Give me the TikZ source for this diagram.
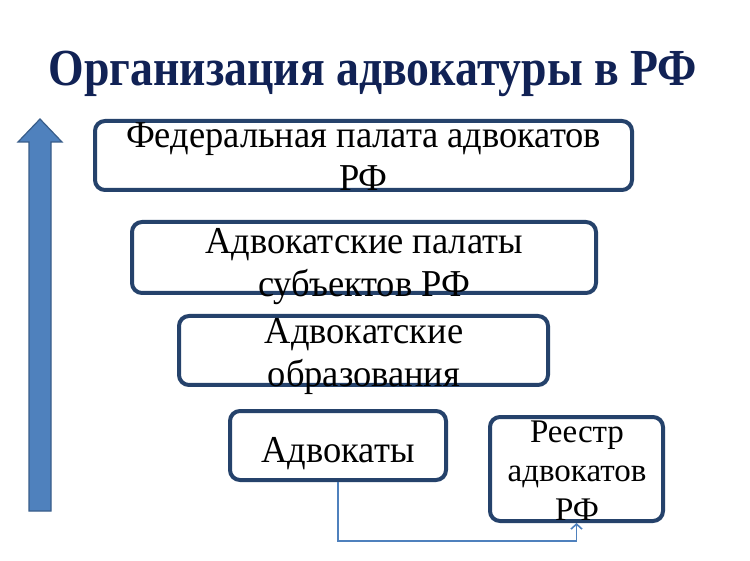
\documentclass[tikz,border=0pt]{standalone}
\usepackage{fontspec}
\setmainfont{Liberation Serif}
\usetikzlibrary{arrows.meta}
\definecolor{boxblue}{RGB}{37,66,107}
\definecolor{arrowfill}{RGB}{79,129,189}
\definecolor{arrowline}{RGB}{56,93,138}
\definecolor{titleblue}{RGB}{17,34,85}
\begin{document}
\begin{tikzpicture}[x=1pt,y=-1pt,
  box/.style={draw=boxblue, line width=4pt, rounded corners=10pt, fill=white, inner sep=0pt},
  lbl/.style={anchor=base, inner sep=0pt, font=\fontsize{38}{44}\selectfont},
  slbl/.style={anchor=base, inner sep=0pt, font=\fontsize{33}{39}\selectfont},
  conn/.style={draw=arrowfill, line width=1.6pt, -{Straight Barb[length=5pt,width=11pt]}}]
\useasboundingbox (0,0) rectangle (750,561);
\fill[white] (0,0) rectangle (750,561);
% title
\node[anchor=base, inner sep=0pt, text=titleblue, font=\fontsize{52}{60}\selectfont\bfseries] (title) at (373,86) {\scalebox{0.88}[1]{Организация адвокатуры в РФ}};
% arrow
\filldraw[fill=arrowfill, draw=arrowline, line width=1.2pt] (40,119) -- (62,142) -- (51,142) -- (51,511) -- (29,511) -- (29,142) -- (18,142) -- cycle;
% boxes
\node[box, minimum width=537pt, minimum height=69pt] (b1) at (363.5,155.5) {};
\node[box, minimum width=464pt, minimum height=71pt] (b2) at (364,257.5) {};
\node[box, minimum width=369pt, minimum height=69pt] (b3) at (363.5,350.5) {};
\node[box, minimum width=216pt, minimum height=69pt] (b4) at (338,445.5) {};
\node[box, minimum width=173pt, minimum height=104pt] (b5) at (576.5,469) {};
% texts
\node[lbl] (t1a) at (363.5,148) {\scalebox{0.96}[1]{Федеральная палата адвокатов}};
\node[lbl] (t1b) at (363.5,191) {\scalebox{0.96}[1]{РФ}};
\node[lbl] (t2a) at (364,254) {\scalebox{0.96}[1]{Адвокатские палаты}};
\node[lbl] (t2b) at (364,297) {\scalebox{0.96}[1]{субъектов РФ}};
\node[lbl] (t3a) at (364,344) {\scalebox{0.96}[1]{Адвокатские}};
\node[lbl] (t3b) at (364,387) {\scalebox{0.96}[1]{образования}};
\node[lbl] (t4) at (338,462) {\scalebox{0.96}[1]{Адвокаты}};
\node[slbl] (t5a) at (577,442) {Реестр};
\node[slbl] (t5b) at (577,481) {адвокатов};
\node[slbl] (t5c) at (577,520) {РФ};
% connector
\draw[conn] (b4.south) -- ++(0,59) -| (b5.south);
\end{tikzpicture}
\end{document}
